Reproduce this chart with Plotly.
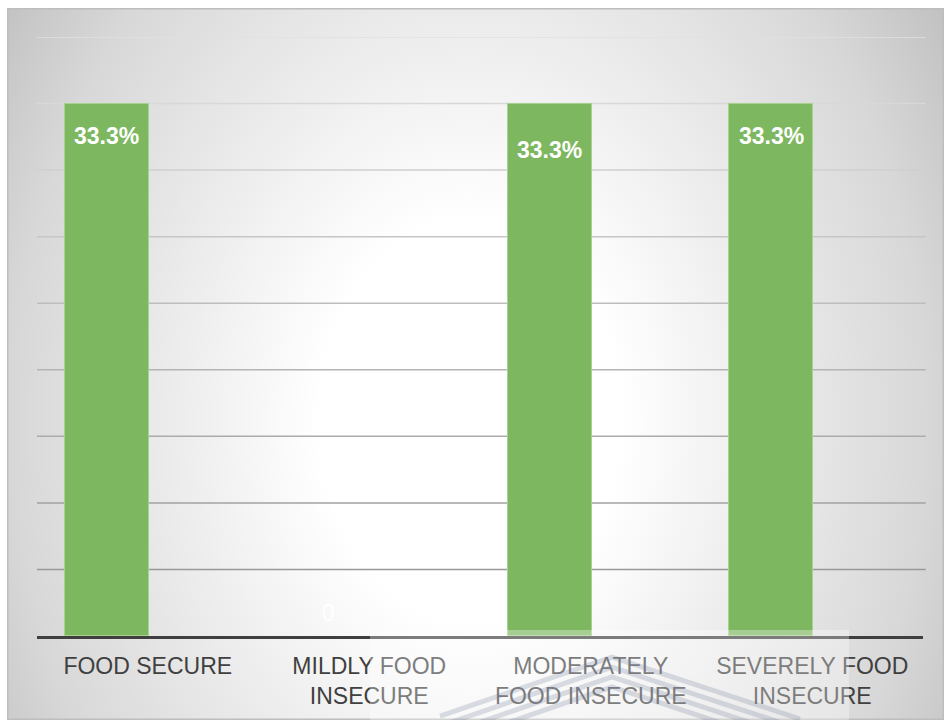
import base64
import plotly.graph_objects as go

# ---- data -------------------------------------------------------------
categories = [
    "FOOD SECURE",
    "MILDLY FOOD<br>INSECURE",
    "MODERATELY<br>FOOD INSECURE",
    "SEVERELY FOOD<br>INSECURE",
]
shares = [33.3, 0, 33.3, 33.3]
value_labels = ["33.3%", "0", "33.3%", "33.3%"]

# ---- styling ----------------------------------------------------------
W, H = 944, 720
L, R, T, B = 37, 21, 37, 84
plot_w, plot_h = W - L - R, H - T - B

bar_color = "#7db75f"
bar_edge = "#a9d18e"
bar_width = 0.38
bar_offset = -0.375
label_drop = [17, 0, 31, 17]          # downward nudge of each value label (px)

grid_step = max(shares) / 8
n_grid = 9
y_top = grid_step * n_grid


def px_to_paper(x, y):
    return (x - L) / plot_w, (H - B - y) / plot_h


# radial grey-to-white backdrop with a thin frame
svg = """<svg xmlns="http://www.w3.org/2000/svg" width="937" height="712"
 viewBox="0 0 937 712" preserveAspectRatio="none">
<defs><radialGradient id="g" gradientUnits="userSpaceOnUse" cx="0" cy="0" r="1"
 gradientTransform="translate(463 412) scale(600 800)">
<stop offset="0" stop-color="#ffffff"/>
<stop offset="0.25" stop-color="#ffffff"/>
<stop offset="0.51" stop-color="#ebebeb"/>
<stop offset="0.76" stop-color="#d8d8d8"/>
<stop offset="0.92" stop-color="#c4c4c4"/>
<stop offset="1" stop-color="#bcbcbc"/>
</radialGradient></defs>
<rect x="0" y="0" width="937" height="712" fill="url(#g)"/>
<rect x="0.75" y="0.75" width="935.5" height="710.5" fill="none" stroke="#bdbdbd" stroke-width="1.5"/>
</svg>"""
bg_src = "data:image/svg+xml;base64," + base64.b64encode(svg.encode()).decode()

fig = go.Figure()

fig.add_trace(go.Bar(
    x=categories,
    y=shares,
    width=bar_width,
    offset=bar_offset,
    marker=dict(
        color=bar_color,
        line=dict(color=bar_edge, width=[1 if v > 0 else 0 for v in shares]),
    ),
    hoverinfo="skip",
))

# value labels placed on each bar
annotations = []
for i, (v, lab) in enumerate(zip(shares, value_labels)):
    xc = i + bar_offset + bar_width / 2
    if v > 0:
        annotations.append(dict(
            x=xc, y=v, xref="x", yref="y", text=lab, showarrow=False,
            yanchor="top", yshift=-label_drop[i],
            font=dict(family="Liberation Sans, Arial", size=23, color="white",
                      weight="bold"),
        ))
    else:
        annotations.append(dict(
            x=xc, y=v, xref="x", yref="y", text=lab, showarrow=False,
            yanchor="middle", yshift=23,
            font=dict(family="Liberation Sans, Arial", size=23, color="white"),
        ))

# horizontal gridlines, darkening towards the baseline
shapes = []
for k in range(1, n_grid + 1):
    g = 153 + (k - 1) * 9
    shapes.append(dict(
        type="line", xref="paper", yref="y", x0=0, x1=1.003,
        y0=k * grid_step, y1=k * grid_step,
        line=dict(color=f"rgb({g},{g},{g})", width=1.5), layer="below",
    ))

# translucent stamp near the bottom edge
x0, y0 = px_to_paper(370, 630)
x1, y1 = px_to_paper(849, 722)
shapes.append(dict(
    type="rect", xref="paper", yref="paper", x0=x0, x1=x1, y0=y1, y1=y0,
    fillcolor="rgba(255,255,255,0.32)", line=dict(width=0), layer="above",
))
for j in range(4):
    pts = [(440, 716 + 10 * j), (612, 657 + 10 * j), (800, 719 + 10 * j)]
    path = ""
    for n, (px, py) in enumerate(pts):
        ax, ay = px_to_paper(px, py)
        path += ("M" if n == 0 else "L") + f"{ax:.4f},{ay:.4f} "
    shapes.append(dict(
        type="path", xref="paper", yref="paper", path=path,
        line=dict(color="rgba(110,120,150,0.24)", width=5), layer="above",
    ))

bx, by = px_to_paper(7, 8)
fig.update_layout(
    width=W, height=H,
    margin=dict(l=L, r=R, t=T, b=B),
    paper_bgcolor="white",
    plot_bgcolor="rgba(0,0,0,0)",
    showlegend=False,
    bargap=0,
    images=[dict(
        source=bg_src, xref="paper", yref="paper",
        x=bx, y=by, sizex=937 / plot_w, sizey=712 / plot_h,
        xanchor="left", yanchor="top", sizing="stretch", layer="below",
    )],
    shapes=shapes,
    annotations=annotations,
    xaxis=dict(
        type="category", range=[-0.5, 3.5], automargin=False,
        showgrid=False, zeroline=False,
        showline=True, linecolor="#3f3f3f", linewidth=3,
        ticks="", ticklabelstandoff=7,
        tickfont=dict(family="Liberation Sans, Arial", size=23,
                      color="#404040"),
    ),
    yaxis=dict(
        range=[0, y_top], automargin=False, showgrid=False, zeroline=False,
        showticklabels=False, showline=False,
    ),
)

fig.write_html("out.html")
